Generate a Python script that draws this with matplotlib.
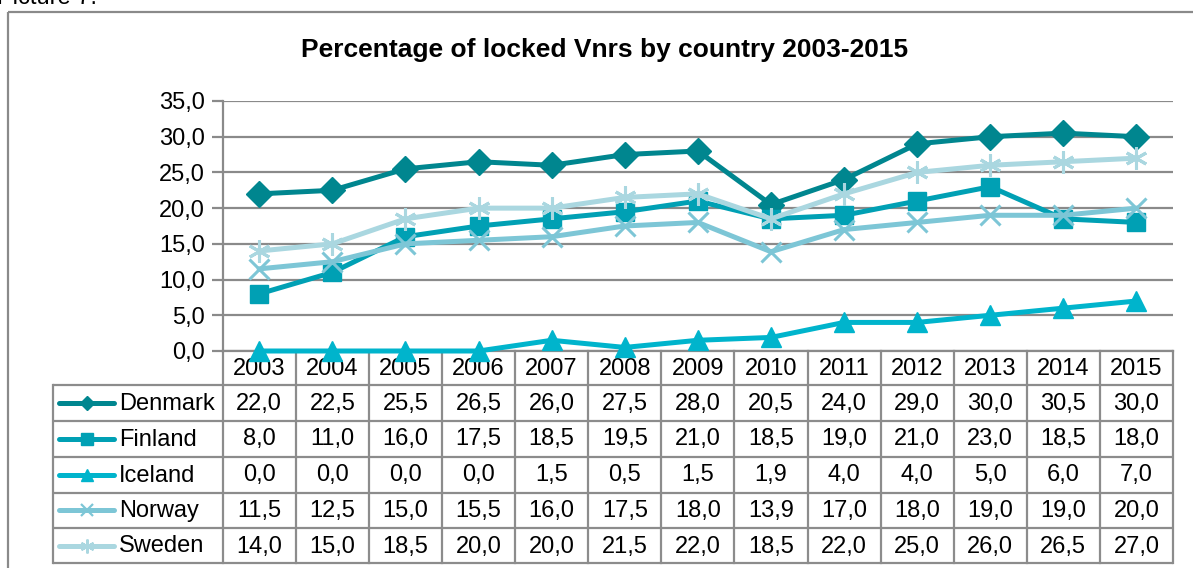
import matplotlib
matplotlib.use("Agg")
import matplotlib.pyplot as plt
from matplotlib.lines import Line2D
from matplotlib.patches import Rectangle

plt.rcParams['font.family'] = ['Liberation Sans', 'DejaVu Sans']

# data
years = ["2003", "2004", "2005", "2006", "2007", "2008", "2009",
         "2010", "2011", "2012", "2013", "2014", "2015"]
countries = ["Denmark", "Finland", "Iceland", "Norway", "Sweden"]
denmark = [22.0, 22.5, 25.5, 26.5, 26.0, 27.5, 28.0, 20.5, 24.0, 29.0, 30.0, 30.5, 30.0]
finland = [8.0, 11.0, 16.0, 17.5, 18.5, 19.5, 21.0, 18.5, 19.0, 21.0, 23.0, 18.5, 18.0]
iceland = [0.0, 0.0, 0.0, 0.0, 1.5, 0.5, 1.5, 1.9, 4.0, 4.0, 5.0, 6.0, 7.0]
norway = [11.5, 12.5, 15.0, 15.5, 16.0, 17.5, 18.0, 13.9, 17.0, 18.0, 19.0, 19.0, 20.0]
sweden = [14.0, 15.0, 18.5, 20.0, 20.0, 21.5, 22.0, 18.5, 22.0, 25.0, 26.0, 26.5, 27.0]
series = [denmark, finland, iceland, norway, sweden]

colors = ["#00868f", "#00a0b4", "#00b4cc", "#7dc6d6", "#aad7e0"]
markers = ["D", "s", "^", "x", (6, 2, 0)]
msizes = [13, 13, 15, 14, 16]
kmsizes = [7, 8, 9, 9, 10]

W, H = 1193, 568
fig = plt.figure(figsize=(W / 100, H / 100), dpi=100)

# overlay in pixel coordinates for frame and table
bg = fig.add_axes([0, 0, 1, 1])
bg.set_xlim(0, W)
bg.set_ylim(H, 0)
bg.axis("off")

bg.add_patch(Rectangle((8, 12), W, H, fill=False, ec="#8a8a8a", lw=1.6))
bg.text(-3, 4, "Picture 7.", fontsize=17, ha="left", va="baseline")
bg.text(605, 50, "Percentage of locked Vnrs by country 2003-2015",
        fontsize=19, fontweight="bold", ha="center", va="center")

# plot area
pl, pr, pt, pb = 222.7, 1173, 101, 351
ax = fig.add_axes([pl / W, 1 - pb / H, (pr - pl) / W, (pb - pt) / H])
x = list(range(len(years)))
for vals, c, m, ms in zip(series, colors, markers, msizes):
    ax.plot(x, vals, color=c, lw=3.6, marker=m, markersize=ms,
            markeredgewidth=2.2 if m in ("x", (6, 2, 0)) else 1,
            markeredgecolor=c, markerfacecolor=c, clip_on=False, zorder=3)
ax.set_xlim(-0.5, len(years) - 0.5)
ax.set_ylim(0, 35)
ax.set_yticks(range(0, 36, 5))
ax.set_yticklabels([f"{v:.1f}".replace(".", ",") for v in range(0, 36, 5)], fontsize=17)
ax.set_xticks([])
ax.grid(axis="y", color="#8a8a8a", lw=1.6)
ax.set_axisbelow(True)
for s in ["top", "right"]:
    ax.spines[s].set_visible(False)
ax.spines["left"].set_color("#8a8a8a")
ax.spines["left"].set_linewidth(1.6)
ax.spines["bottom"].set_color("#8a8a8a")
ax.spines["bottom"].set_linewidth(1.6)
ax.tick_params(axis="y", length=8, width=1.6, color="#8a8a8a", pad=5)
ax.patch.set_alpha(0)

# data table
gc = "#8c8c8c"
colw = (pr - pl) / len(years)
rows_y = [351, 385, 420.5, 456.5, 492.5, 528.3, 562.7]
lab_l = 53
for yv in rows_y[1:]:
    bg.plot([lab_l, pr], [yv, yv], color=gc, lw=1.6, solid_capstyle="butt")
bg.plot([lab_l, lab_l], [rows_y[1], rows_y[-1]], color=gc, lw=1.6)
for j in range(len(years) + 1):
    xv = pl + j * colw
    bg.plot([xv, xv], [rows_y[0], rows_y[-1]], color=gc, lw=1.6)
for j, yr in enumerate(years):
    bg.text(pl + (j + 0.5) * colw, (rows_y[0] + rows_y[1]) / 2 + 1, yr,
            fontsize=17, ha="center", va="center")
for i, (name, vals) in enumerate(zip(countries, series)):
    yc = (rows_y[i + 1] + rows_y[i + 2]) / 2 + 1
    for j, v in enumerate(vals):
        bg.text(pl + (j + 0.5) * colw, yc, f"{v:.1f}".replace(".", ","),
                fontsize=17, ha="center", va="center")
    bg.add_line(Line2D([59, 114], [yc - 1, yc - 1], color=colors[i], lw=3.6,
                       solid_capstyle="round"))
    bg.add_line(Line2D([86.5], [yc - 1], color=colors[i], marker=markers[i],
                       markersize=kmsizes[i], markeredgecolor=colors[i],
                       markerfacecolor=colors[i],
                       markeredgewidth=1.6 if i >= 3 else 1))
    bg.text(119, yc, name, fontsize=17, ha="left", va="center")

fig.savefig("out.png", dpi=100)
